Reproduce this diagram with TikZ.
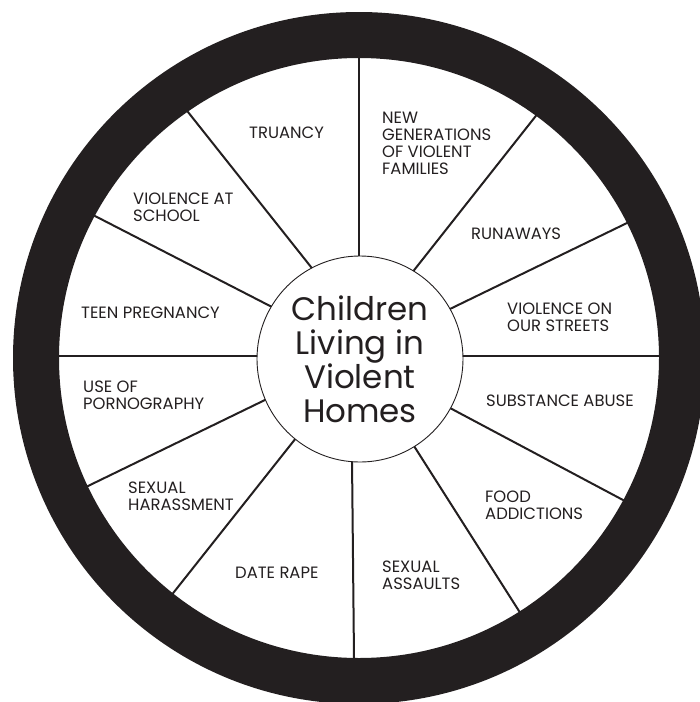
\documentclass[tikz,border=0pt]{standalone}
\usepackage{fontspec}
\setmainfont{Poppins}
\definecolor{ringc}{HTML}{231F20}
\begin{document}
\begin{tikzpicture}[x=1pt,y=-1pt,
  spoke/.style={draw=ringc,line width=2pt,shorten <=-4pt,shorten >=-8pt},
  lbl/.style={anchor=north west,inner sep=0pt,align=left,text=ringc,
    font=\fontsize{16.4}{16.8}\selectfont},
  hubbox/.style={circle,draw=ringc,line width=0.9pt,fill=white,minimum size=206pt,inner sep=0pt,
    align=center,text=ringc,font=\fontsize{32.5}{34}\selectfont}]
\useasboundingbox (0,0) rectangle (700,702);
\clip (0,0) rectangle (700,702);
% spoke end points
\coordinate (i1) at (359,255); \coordinate (o1) at (359,58);
\coordinate (i2) at (311,267); \coordinate (o2) at (188,112);
\coordinate (i3) at (272,307); \coordinate (o3) at (95,216);
\coordinate (i4) at (259,356); \coordinate (o4) at (60,356);
\coordinate (i5) at (267,399); \coordinate (o5) at (88,486);
\coordinate (i6) at (296,438); \coordinate (o6) at (174,592);
\coordinate (i7) at (352,459); \coordinate (o7) at (354,658);
\coordinate (i8) at (414,446); \coordinate (o8) at (519,611);
\coordinate (i9) at (450,408); \coordinate (o9) at (623,500);
\coordinate (i10) at (463,356); \coordinate (o10) at (659,356);
\coordinate (i11) at (452,308); \coordinate (o11) at (627,223);
\coordinate (i12) at (415,269); \coordinate (o12) at (535,117);
\foreach \k in {1,...,12} { \draw[spoke] (i\k) -- (o\k); }
% outer ring
\fill[ringc,even odd rule] (359,358) circle[radius=346pt] (359,358) circle[radius=300pt];
% hub
\node[hubbox] (hub) at (360,359) {Children\\Living in\\Violent\\Homes};
% labels
\node[lbl] (truancy) at (249,127) {TRUANCY};
\node[lbl] (newgen) at (382,112) {NEW\\GENERATIONS\\OF VIOLENT\\FAMILIES};
\node[lbl] (runaways) at (471,228) {RUNAWAYS};
\node[lbl] (streets) at (507,303) {VIOLENCE ON\\OUR STREETS};
\node[lbl] (substance) at (486,395) {SUBSTANCE ABUSE};
\node[lbl] (food) at (485,491) {FOOD\\ADDICTIONS};
\node[lbl] (assaults) at (382,561) {SEXUAL\\ASSAULTS};
\node[lbl] (daterape) at (235,567) {DATE RAPE};
\node[lbl] (harass) at (128,482) {SEXUAL\\HARASSMENT};
\node[lbl] (porn) at (83,381) {USE OF\\PORNOGRAPHY};
\node[lbl] (teen) at (81,307) {TEEN PREGNANCY};
\node[lbl] (school) at (133,193) {VIOLENCE AT\\SCHOOL};
\end{tikzpicture}
\end{document}
